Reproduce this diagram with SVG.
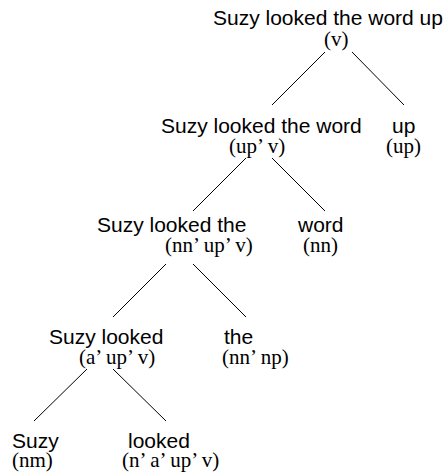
<svg xmlns="http://www.w3.org/2000/svg" width="446" height="474" viewBox="0 0 446 474">
<style>
.s{font-family:"Liberation Sans",Arial,sans-serif;font-size:21px;fill:#000}
.t{font-family:"Liberation Serif","Times New Roman",serif;font-size:21px;fill:#000}
.e{stroke:#000;stroke-width:1;fill:none}
</style>
<rect width="446" height="474" fill="#fff"/>
<g id="connectors" class="e">
<line x1="325" y1="52" x2="272" y2="105"/>
<line x1="352" y1="52" x2="404" y2="105"/>
<line x1="246" y1="158" x2="193" y2="211"/>
<line x1="272" y1="158" x2="325" y2="211"/>
<line x1="166" y1="264" x2="113" y2="317"/>
<line x1="193" y1="264" x2="246" y2="317"/>
<line x1="87" y1="369" x2="34" y2="421"/>
<line x1="113" y1="369" x2="166" y2="421"/>
</g>
<g id="n0"><text class="s" x="213" y="25">Suzy looked the word up</text><text class="t" x="324" y="46">(v)</text></g>
<g id="n1"><text class="s" x="161" y="133">Suzy looked the word</text><text class="t" x="229" y="153">(up’ v)</text></g>
<g id="n2"><text class="s" x="392" y="133">up</text><text class="t" x="386" y="153">(up)</text></g>
<g id="n3"><text class="s" x="97" y="232">Suzy looked the</text><text class="t" x="165" y="252">(nn’ up’ v)</text></g>
<g id="n4"><text class="s" x="298" y="232">word</text><text class="t" x="303" y="252">(nn)</text></g>
<g id="n5"><text class="s" x="49" y="344">Suzy looked</text><text class="t" x="79" y="364">(a’ up’ v)</text></g>
<g id="n6"><text class="s" x="224" y="344">the</text><text class="t" x="222" y="364">(nn’ np)</text></g>
<g id="n7"><text class="s" x="12" y="448">Suzy</text><text class="t" x="12" y="467">(nm)</text></g>
<g id="n8"><text class="s" x="128" y="448">looked</text><text class="t" x="122" y="467">(n’ a’ up’ v)</text></g>
</svg>
